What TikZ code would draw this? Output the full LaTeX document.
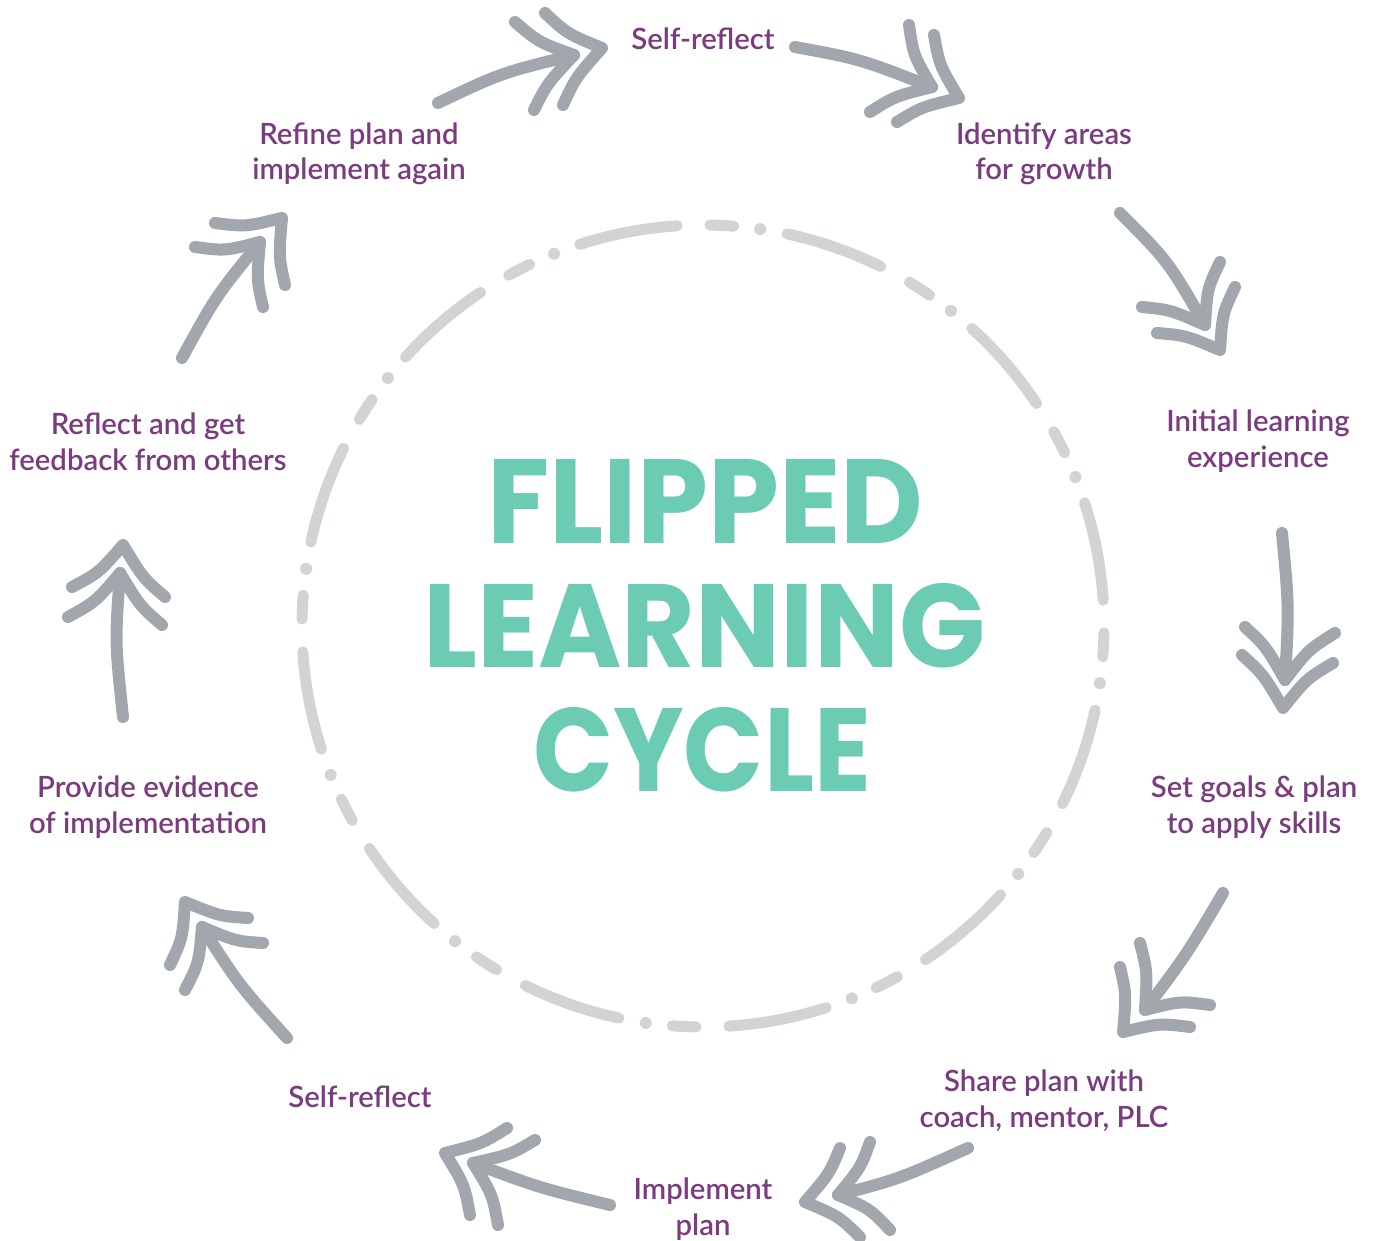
\documentclass[tikz,border=0pt]{standalone}
\usepackage{fontspec}
\usepackage{graphicx}
\usetikzlibrary{calc}
\newfontfamily\labelfont{Lato}[UprightFont={* Semibold}]
\newfontfamily\titlefont{Poppins}
\definecolor{arrowgray}{HTML}{A2A7AD}
\definecolor{circgray}{HTML}{D1D3D4}
\definecolor{lblpurple}{HTML}{7A3B7F}
\definecolor{titleteal}{HTML}{6CCBB3}
\tikzset{
  arw/.style={draw=arrowgray, line width=12pt, line cap=round, line join=round},
  circ/.style={draw=circgray, line width=11pt, line cap=round},
  lbl/.style={font=\labelfont\fontsize{29.3}{35.5}\selectfont, text=lblpurple, align=center, inner sep=0pt, anchor=base},
  ttl/.style={anchor=base west, inner sep=0pt, text=titleteal}
}
\newcommand\drawarrow[1]{%
  \draw[arw] (a#1s) .. controls (a#1c) .. (a#1a);
  \draw[arw] (a#1e) .. controls ($(a#1e)!0.5!(a#1a)!7pt!(a#1s)$) .. (a#1a)
                    .. controls ($(a#1f)!0.5!(a#1a)!7pt!(a#1s)$) .. (a#1f);
  \draw[arw] (a#1g) .. controls ($(a#1g)!0.5!(a#1o)!7pt!(a#1s)$) .. (a#1o)
                    .. controls ($(a#1h)!0.5!(a#1o)!7pt!(a#1s)$) .. (a#1h);
}
\begin{document}
\begin{tikzpicture}[x=1pt,y=-1pt]
\fill[white] (0,0) rectangle (1374,1241);
\useasboundingbox (0,0) rectangle (1374,1241);

% dash-dot circle
\foreach \k in {0,...,11}{
  \pgfmathsetmacro\la{92.9+30*\k+0.8}
  \pgfmathsetmacro\lb{92.9+30*\k+15.0}
  \pgfmathsetmacro\dd{92.9+30*\k+18.9}
  \pgfmathsetmacro\sa{92.9+30*\k+22.7}
  \pgfmathsetmacro\sb{92.9+30*\k+26.1}
  \draw[circ] plot[domain=\la:\lb, samples=16, smooth] ({703+401*cos(\x)},{626-401*sin(\x)});
  \fill[circgray] ({703+401*cos(\dd)},{626-401*sin(\dd)}) circle[radius=6pt];
  \draw[circ] plot[domain=\sa:\sb, samples=6, smooth] ({703+401*cos(\x)},{626-401*sin(\x)});
}

% title
\node[ttl] (tt1) at (487,543) {\resizebox{436pt}{84pt}{\titlefont\bfseries FLIPPED}};
\node[ttl] (tt2) at (423,667) {\resizebox{562pt}{84pt}{\titlefont\bfseries LEARNING}};
\node[ttl] (tt3) at (533,791) {\resizebox{338pt}{84pt}{\titlefont\bfseries CYCLE}};

% labels (anchor = baseline of last line)
\node[lbl] (l1) at (703,50) {Self-reflect};
\node[lbl] (l2) at (1044,180) {Identify areas\\for growth};
\node[lbl] (l3) at (1258,467) {Initial learning\\experience};
\node[lbl] (l4) at (1254,833) {Set goals \& plan\\to apply skills};
\node[lbl] (l5) at (1044,1127) {Share plan with\\coach, mentor, PLC};
\node[lbl] (l6) at (703,1235) {Implement\\plan};
\node[lbl] (l7) at (360,1107) {Self-reflect};
\node[lbl] (l8) at (148,833) {Provide evidence\\of implementation};
\node[lbl] (l9) at (148,470) {Reflect and get\\feedback from others};
\node[lbl] (l10) at (359,180) {Refine plan and\\implement again};

% arrow coordinates: s start, c control, a inner apex, e/f inner arms, o outer apex, g/h outer arms
\coordinate (a1s) at (438,103); \coordinate (a1c) at (501,73); \coordinate (a1a) at (574,55);
\coordinate (a1e) at (515,22); \coordinate (a1f) at (534,110);
\coordinate (a1o) at (602,48); \coordinate (a1g) at (545,13); \coordinate (a1h) at (563,105);

\coordinate (a2s) at (795,47); \coordinate (a2c) at (860,59); \coordinate (a2a) at (932,87);
\coordinate (a2e) at (909,25); \coordinate (a2f) at (870,112);
\coordinate (a2o) at (959,98); \coordinate (a2g) at (934,35); \coordinate (a2h) at (897,122);

\coordinate (a3s) at (1120,213); \coordinate (a3c) at (1168,261); \coordinate (a3a) at (1205,325);
\coordinate (a3e) at (1220,262); \coordinate (a3f) at (1142,307);
\coordinate (a3o) at (1220,350); \coordinate (a3g) at (1235,287); \coordinate (a3h) at (1157,333);

\coordinate (a4s) at (1282,533); \coordinate (a4c) at (1289,607); \coordinate (a4a) at (1285,680);
\coordinate (a4e) at (1245,627); \coordinate (a4f) at (1335,633);
\coordinate (a4o) at (1283,708); \coordinate (a4g) at (1242,655); \coordinate (a4h) at (1333,663);

\coordinate (a5s) at (1223,893); \coordinate (a5c) at (1187,954); \coordinate (a5a) at (1145,1010);
\coordinate (a5e) at (1140,943); \coordinate (a5f) at (1210,1005);
\coordinate (a5o) at (1123,1032); \coordinate (a5g) at (1120,967); \coordinate (a5h) at (1190,1027);

\coordinate (a6s) at (968,1148); \coordinate (a6c) at (899,1179); \coordinate (a6a) at (838,1195);
\coordinate (a6e) at (870,1142); \coordinate (a6f) at (890,1230);
\coordinate (a6o) at (805,1202); \coordinate (a6g) at (840,1148); \coordinate (a6h) at (860,1237);

\coordinate (a7s) at (610,1205); \coordinate (a7c) at (540,1188); \coordinate (a7a) at (473,1163);
\coordinate (a7e) at (535,1140); \coordinate (a7f) at (498,1225);
\coordinate (a7o) at (445,1153); \coordinate (a7g) at (507,1128); \coordinate (a7h) at (470,1215);

\coordinate (a8s) at (287,1038); \coordinate (a8c) at (239,985); \coordinate (a8a) at (202,927);
\coordinate (a8e) at (263,943); \coordinate (a8f) at (185,990);
\coordinate (a8o) at (185,902); \coordinate (a8g) at (248,918); \coordinate (a8h) at (170,965);

\coordinate (a9s) at (123,717); \coordinate (a9c) at (115,642); \coordinate (a9a) at (120,573);
\coordinate (a9e) at (68,617); \coordinate (a9f) at (162,625);
\coordinate (a9o) at (123,545); \coordinate (a9g) at (72,587); \coordinate (a9h) at (165,597);

\coordinate (a10s) at (182,358); \coordinate (a10c) at (216,296); \coordinate (a10a) at (260,242);
\coordinate (a10e) at (195,247); \coordinate (a10f) at (263,307);
\coordinate (a10o) at (282,218); \coordinate (a10g) at (215,223); \coordinate (a10h) at (285,285);

\foreach \n in {1,...,10}{\drawarrow{\n}}
\end{tikzpicture}
\end{document}
